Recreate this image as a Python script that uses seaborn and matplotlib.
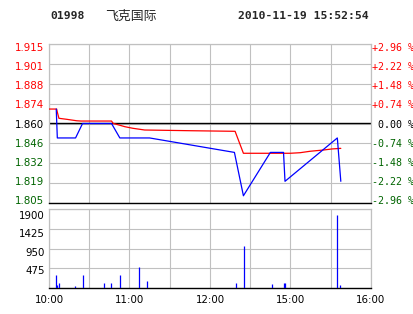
import matplotlib
matplotlib.use('Agg')
import matplotlib.pyplot as plt
import matplotlib.transforms as mtransforms
import seaborn as sns
import numpy as np

# ---- data (minutes since 10:00 trading clock, 240 = 16:00) ----
trade_minutes = [5.4, 6.2, 19.8, 25.0, 46.6, 52.8, 75.0, 138.2, 144.9, 165.0, 174.8, 175.9, 214.9, 217.5]
trade_prices = [1.87, 1.85, 1.85, 1.86, 1.86, 1.85, 1.85, 1.84, 1.81, 1.84, 1.84, 1.82, 1.85, 1.82]

avg_minutes = [0, 5.7, 6.3, 7.4, 13.2, 20.6, 23.8, 46.6, 47.8, 56.5, 62.4, 71.3, 106, 138.7,
               144.9, 179.8, 187.2, 194.7, 205, 211, 217.5]
avg_prices = [1.870, 1.870, 1.8675, 1.8636, 1.8629, 1.8619, 1.8617, 1.8617, 1.8601, 1.8578,
              1.8567, 1.8555, 1.8550, 1.8546, 1.8394, 1.8394, 1.8398, 1.8408, 1.8417, 1.8424, 1.8428]

vol_minutes = [5.4, 6.2, 7.7, 19.5, 25.5, 41.1, 46.3, 53.0, 67.1, 73.0, 139.2, 145.1, 166.0,
               174.9, 175.9, 214.9, 217.2]
vol_values = [320, 70, 120, 50, 320, 120, 120, 320, 500, 170, 120, 1000, 100, 120, 120, 1750, 70]

prev_close = 1.860
price_labels = ['1.915', '1.901', '1.888', '1.874', '1.860', '1.846', '1.832', '1.819', '1.805']
pct_labels = ['+2.96 %', '+2.22 %', '+1.48 %', '+0.74 %', ' 0.00 %', '-0.74 %', '-1.48 %', '-2.22 %', '-2.96 %']
vol_ticks = [475, 950, 1425, 1900]
vol_labels = ['475', '950', '1425', '1900']
time_labels = ['10:00', '', '11:00', '', '12:00', '', '15:00', '', '16:00']

code = '01998'
name = '飞克国际'
stamp = '2010-11-19 15:52:54'

# ---- style ----
sns.set_theme(style='white')
plt.rcParams['font.family'] = ['DejaVu Sans', 'Noto Sans CJK SC']

RED = '#ff0000'
GREEN = '#006400'
BLUE = '#0000ff'
GRID = '#c0c0c0'
FS = 7.4

W, H = 414, 314
fig = plt.figure(figsize=(W / 100, H / 100), dpi=100)
fig.patch.set_facecolor('white')


def shift_down(label, px):
    label.set_transform(label.get_transform() +
                        mtransforms.ScaledTranslation(0, -px / 100, fig.dpi_scale_trans))


# price panel
ax = fig.add_axes([49 / W, (H - 203) / H, 322 / W, 159 / H])
ymin, ymax = 1.805, 1.915
yt = np.linspace(ymin, ymax, 9)[::-1]
ax.set_xlim(0, 240)
ax.set_ylim(ymin, ymax)
ax.set_xticks(np.arange(0, 241, 30))
ax.set_xticklabels([])
ax.set_yticks(yt)
ax.set_yticklabels(price_labels)
ax.grid(True, color=GRID, lw=0.8)
ax.tick_params(axis='both', length=0)
ax.tick_params(axis='y', pad=3.6, labelsize=FS)
for i, lab in enumerate(ax.get_yticklabels()):
    v = float(lab.get_text())
    lab.set_color(RED if v > prev_close else (GREEN if v < prev_close else 'black'))
    shift_down(lab, 3 - 6 * i / 8)
for s in ['top', 'left', 'right']:
    ax.spines[s].set_color(GRID)
    ax.spines[s].set_linewidth(0.9)
ax.spines['bottom'].set_color('black')
ax.spines['bottom'].set_linewidth(1.0)
ax.axhline(prev_close, color='black', lw=1.0, zorder=2)

sns.lineplot(x=avg_minutes, y=avg_prices, ax=ax, color=RED, lw=0.9, estimator=None, sort=False, zorder=3)
sns.lineplot(x=trade_minutes, y=trade_prices, ax=ax, color=BLUE, lw=0.9, estimator=None, sort=False, zorder=4)
ax.set_xlabel('')
ax.set_ylabel('')

axr = ax.twinx()
axr.set_ylim(ymin, ymax)
axr.set_yticks(yt)
axr.set_yticklabels(pct_labels, family='DejaVu Sans Mono', fontsize=7.2)
axr.tick_params(axis='y', length=0, pad=1)
for i, lab in enumerate(axr.get_yticklabels()):
    t = lab.get_text().strip()
    lab.set_color(RED if t.startswith('+') else (GREEN if t.startswith('-') else 'black'))
    shift_down(lab, 3 - 6 * i / 8)
for s in axr.spines.values():
    s.set_visible(False)
axr.grid(False)

# volume panel
ax2 = fig.add_axes([49 / W, (H - 288) / H, 322 / W, 79 / H])
ax2.set_xlim(0, 240)
ax2.set_ylim(0, 1900)
ax2.vlines(vol_minutes, 0, vol_values, color=BLUE, lw=0.9, zorder=3)
ax2.set_xticks(np.arange(0, 241, 30))
ax2.set_xticklabels(time_labels)
ax2.set_yticks(vol_ticks)
ax2.set_yticklabels(vol_labels)
ax2.grid(True, color=GRID, lw=0.8)
ax2.tick_params(axis='both', length=0, labelsize=FS)
ax2.tick_params(axis='y', pad=3)
ax2.tick_params(axis='x', pad=5, colors='black')
for s in ['top', 'left', 'right']:
    ax2.spines[s].set_color(GRID)
    ax2.spines[s].set_linewidth(0.9)
ax2.spines['bottom'].set_color('black')
ax2.spines['bottom'].set_linewidth(1.0)
vol_shift = [2, 3, 4, 6]
for lab, px in zip(ax2.get_yticklabels(), vol_shift):
    lab.set_color('black')
    shift_down(lab, px)
for lab in ax2.get_xticklabels():
    lab.set_color('black')

# header
yh = 1 - 16 / H
fig.text(50 / W, yh, code, family='DejaVu Sans Mono', weight='bold', size=8.2, va='center', ha='left')
fig.text(105 / W, yh, name, family=['Noto Sans CJK SC', 'DejaVu Sans'], size=9.3, va='center', ha='left')
fig.text(238 / W, yh, stamp, family='DejaVu Sans Mono', weight='bold', size=8.2, va='center', ha='left')

fig.savefig('out.png', dpi=100, facecolor='white')
